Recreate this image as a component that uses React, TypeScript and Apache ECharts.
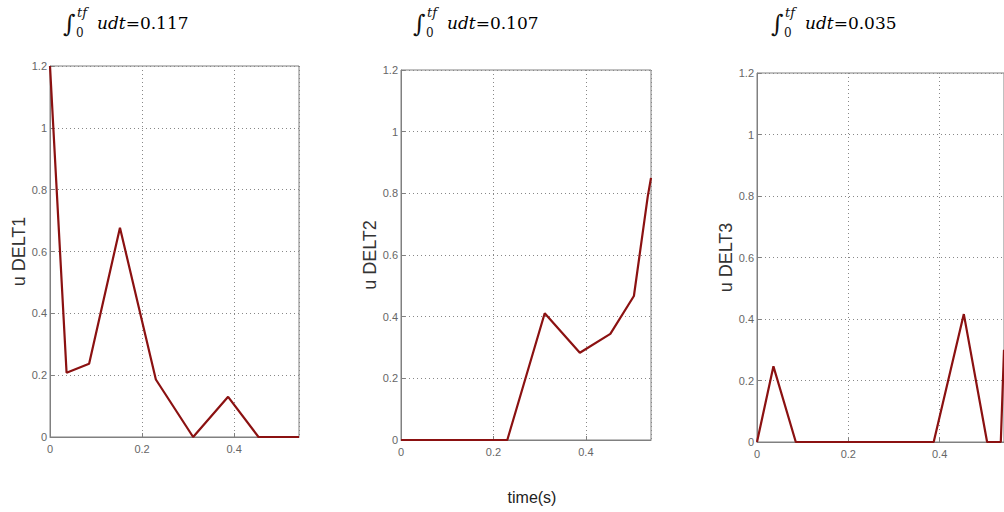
import React, { useEffect, useRef } from "react";
import * as echarts from "echarts";

const time = [0, 0.036, 0.085, 0.152, 0.23, 0.311, 0.387, 0.453, 0.504, 0.534, 0.541];
const uDelt1 = [1.2, 0.208, 0.237, 0.677, 0.186, 0, 0.13, 0, 0, 0, 0];
const uDelt2 = [0, 0, 0, 0, 0, 0.411, 0.283, 0.344, 0.467, 0.79, 0.85];
const uDelt3 = [0, 0.246, 0, 0, 0, 0, 0, 0.416, 0, 0, 0.3];
const integralValues = ["0.117", "0.107", "0.035"];
const yNames = ["u DELT1", "u DELT2", "u DELT3"];
const xLabel = "time(s)";

const grids = [
  { left: 50, top: 66, width: 249, height: 371 },
  { left: 401, top: 70, width: 250, height: 370 },
  { left: 757, top: 73, width: 249, height: 369 },
];
const titleX = [63, 413, 771];
const nameGaps = [21, 22, 21];

export default function App() {
  const ref = useRef<HTMLDivElement>(null);
  useEffect(() => {
    if (!ref.current) return;
    const chart = echarts.init(ref.current, null, { renderer: "svg" });
    const series = [uDelt1, uDelt2, uDelt3];
    const axisColor = "#808080";
    const labelColor = "#666";
    const xAxis = grids.map((_, i) => ({
      type: "value",
      gridIndex: i,
      min: 0,
      max: 0.541,
      interval: 0.2,
      axisLine: { show: true, onZero: false, lineStyle: { color: axisColor, width: 1 } },
      axisTick: { show: true, inside: true, length: 4, lineStyle: { color: axisColor } },
      axisLabel: {
        color: labelColor,
        fontSize: 11,
        fontFamily: "Liberation Sans",
        margin: 6,
        showMaxLabel: false,
      },
      splitLine: { show: true, lineStyle: { color: "#888", type: [1, 3], width: 1 } },
    }));
    const yAxis = grids.map((_, i) => ({
      type: "value",
      gridIndex: i,
      min: 0,
      max: 1.2,
      interval: 0.2,
      name: yNames[i],
      nameLocation: "middle",
      nameRotate: 90,
      nameGap: nameGaps[i],
      nameTextStyle: { color: "#333", fontSize: 18, fontFamily: "Liberation Sans" },
      axisLine: { show: true, lineStyle: { color: axisColor, width: 1 } },
      axisTick: { show: true, inside: true, length: 4, lineStyle: { color: axisColor } },
      axisLabel: {
        color: labelColor,
        fontSize: 11,
        fontFamily: "Liberation Sans",
        margin: 3,
        formatter: (v: number) => String(Math.round(v * 10) / 10),
      },
      splitLine: { show: true, lineStyle: { color: "#888", type: [1, 3], width: 1 } },
    }));
    const graphic: any[] = [];
    titleX.forEach((x, i) => {
      graphic.push({
        type: "group",
        x,
        y: 0,
        children: [
          {
            type: "text",
            x: 0,
            y: 24,
            style: {
              text: "∫",
              font: "24px 'DejaVu Serif'",
              fill: "#111",
              verticalAlign: "middle",
            },
          },
          {
            type: "text",
            x: 14,
            y: 12,
            style: { text: "tf", font: "italic 13px 'DejaVu Serif'", fill: "#111", verticalAlign: "middle" },
          },
          {
            type: "text",
            x: 13,
            y: 33,
            style: { text: "0", font: "12px 'DejaVu Serif'", fill: "#111", verticalAlign: "middle" },
          },
          {
            type: "text",
            x: 34,
            y: 23,
            style: {
              text: "{i|udt}{n|=" + integralValues[i] + "}",
              verticalAlign: "middle",
              rich: {
                i: { fontStyle: "italic", fontSize: 17, fontFamily: "DejaVu Serif", color: "#111" },
                n: { fontSize: 17, fontFamily: "DejaVu Serif", color: "#111" },
              },
            },
          },
        ],
      });
    });
    graphic.push({
      type: "text",
      x: 532,
      y: 497,
      style: {
        text: xLabel,
        font: "16px 'Liberation Sans'",
        fill: "#222",
        align: "center",
        verticalAlign: "middle",
      },
    });
    chart.setOption({
      animation: false,
      grid: grids.map((g) => ({ ...g, show: true, borderColor: axisColor, borderWidth: 1, backgroundColor: "#fff" })),
      xAxis,
      yAxis,
      series: series.map((vals, i) => ({
        type: "line",
        xAxisIndex: i,
        yAxisIndex: i,
        data: time.map((t, k) => [t, vals[k]]),
        showSymbol: false,
        symbol: "none",
        lineStyle: { color: "#8b1111", width: 2.2 },
        clip: true,
      })),
      graphic,
    });
    return () => chart.dispose();
  }, []);
  return (
    <div
      ref={ref}
      style={{ position: "fixed", left: 0, top: 0, width: 1004, height: 512, background: "#fff" }}
    />
  );
}
